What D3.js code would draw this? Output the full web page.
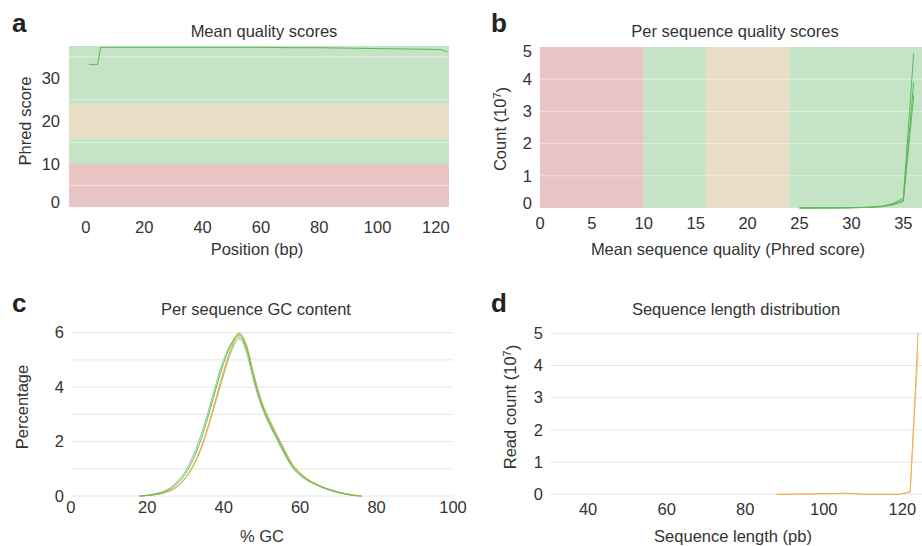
<!DOCTYPE html>
<html>
<head>
<meta charset="utf-8">
<script src="https://cdn.jsdelivr.net/npm/d3@7"></script>
<style>
  body { margin: 0; background: #fff; }
  svg text { font-family: "Liberation Sans", Arial, sans-serif; fill: #333; }
</style>
</head>
<body>
<div class="canvas"></div>
<script>
// a: mean quality per position
const qualPos = [1, 2, 3, 4, 5, 6, 10, 20, 30, 40, 50, 60, 70, 80, 90, 100, 110, 120, 122, 124];
const qualMean = [33.2, 33.2, 33.2, 33.2, 37.1, 37.2, 37.2, 37.2, 37.2, 37.2, 37.2, 37.2, 37.1, 37.1, 37.0, 36.9, 36.8, 36.7, 36.6, 36.1];

// quality bands (shared by a and b)
const bandStarts = [0, 10, 16, 24];
const bandColors = ["#e8c4c4", "#c5e3c5", "#e8dec6", "#c5e3c5"];

// b: per sequence quality (counts in 10^7)
const seqScore = [25, 27, 29, 30, 31, 32, 33, 34, 35, 36];
const seqCountA = [0, 0.002, 0.005, 0.01, 0.02, 0.03, 0.06, 0.14, 0.3, 4.8];
const seqCountB = [0, 0.002, 0.004, 0.008, 0.015, 0.025, 0.05, 0.11, 0.24, 3.9];
const seqCountC = [0, 0.001, 0.004, 0.008, 0.014, 0.022, 0.045, 0.1, 0.2, 3.5];

// c: per sequence GC content (%)
const gcPct = [18, 20, 22, 24, 26, 28, 30, 32, 34, 36, 38, 40, 42, 44, 46, 48, 50, 52, 54, 56, 58, 60, 62, 64, 66, 68, 70, 72, 74, 76];
const gcOrange1 = [0, 0.02, 0.05, 0.1, 0.2, 0.38, 0.68, 1.12, 1.75, 2.6, 3.6, 4.6, 5.45, 6.0, 5.55, 4.38, 3.42, 2.74, 2.17, 1.62, 1.13, 0.82, 0.6, 0.45, 0.32, 0.22, 0.14, 0.08, 0.03, 0];
const gcOrange2 = [0, 0.02, 0.05, 0.1, 0.19, 0.36, 0.65, 1.08, 1.7, 2.55, 3.55, 4.55, 5.4, 5.9, 5.5, 4.36, 3.42, 2.76, 2.2, 1.65, 1.15, 0.84, 0.6, 0.45, 0.32, 0.22, 0.14, 0.08, 0.03, 0];
const gcGreen1 = [0, 0.03, 0.08, 0.16, 0.3, 0.55, 0.92, 1.48, 2.22, 3.12, 4.12, 5.02, 5.62, 5.85, 5.25, 4.15, 3.25, 2.6, 2.05, 1.5, 1.04, 0.76, 0.56, 0.42, 0.3, 0.2, 0.12, 0.06, 0.02, 0];
const gcGreen2 = [0, 0.02, 0.06, 0.13, 0.26, 0.48, 0.82, 1.34, 2.05, 2.95, 3.95, 4.88, 5.58, 5.95, 5.42, 4.28, 3.34, 2.68, 2.12, 1.57, 1.08, 0.79, 0.58, 0.43, 0.31, 0.21, 0.13, 0.07, 0.02, 0];
const gcGreen3 = [0, 0.02, 0.05, 0.1, 0.2, 0.37, 0.66, 1.1, 1.72, 2.55, 3.5, 4.45, 5.3, 5.78, 5.42, 4.4, 3.45, 2.8, 2.24, 1.68, 1.17, 0.85, 0.62, 0.46, 0.33, 0.23, 0.15, 0.08, 0.03, 0];

// d: sequence length distribution (counts in 10^7)
const lenPos = [88, 92, 96, 100, 104, 106, 108, 110, 115, 119, 121, 122, 124];
const lenCountA = [0, 0.005, 0.012, 0.02, 0.03, 0.035, 0.02, 0.004, 0, 0, 0.05, 0.08, 5.0];
const lenCountB = [0, 0.003, 0.01, 0.015, 0.025, 0.028, 0.015, 0.003, 0, 0, 0.04, 0.07, 4.4];

const green = "#5cb85c";
const orange = "#f0ad4e";

const svg = d3
  .select(".canvas")
  .append("svg")
  .attr("width", 922)
  .attr("height", 546);

const fontSize = 16.5;

const drawPanel = (cfg) => {
  const x = d3.scaleLinear().domain(cfg.xDomain).range([cfg.left, cfg.right]);
  const y = d3.scaleLinear().domain(cfg.yDomain).range([cfg.bottom, cfg.top]);
  const g = svg.append("g");

  // quality bands
  if (cfg.bands) {
    const bands = bandStarts.map((s, i) => ({
      from: s,
      to: i < bandStarts.length - 1 ? bandStarts[i + 1] : cfg.bands === "y" ? cfg.yDomain[1] : cfg.xDomain[1],
      color: bandColors[i],
    }));
    g.selectAll("rect.band")
      .data(bands)
      .enter()
      .append("rect")
      .attr("class", "band")
      .attr("fill", (d) => d.color)
      .each(function (d) {
        const r = d3.select(this);
        if (cfg.bands === "y") {
          r.attr("x", cfg.left).attr("width", cfg.right - cfg.left)
            .attr("y", y(d.to)).attr("height", y(d.from) - y(d.to));
        } else {
          r.attr("y", cfg.top).attr("height", cfg.bottom - cfg.top)
            .attr("x", x(d.from)).attr("width", x(d.to) - x(d.from));
        }
      });
  }

  // grid lines
  g.selectAll("line.grid")
    .data(cfg.gridTicks)
    .enter()
    .append("line")
    .attr("class", "grid")
    .attr("x1", cfg.left)
    .attr("x2", cfg.right)
    .attr("y1", (d) => y(d))
    .attr("y2", (d) => y(d))
    .attr("stroke", cfg.gridColor)
    .attr("stroke-opacity", cfg.gridOpacity)
    .attr("stroke-width", 1);

  // series
  const line = d3
    .line()
    .x((d) => x(d[0]))
    .y((d) => y(d[1]))
    .curve(cfg.curve || d3.curveLinear);

  cfg.series.forEach((s) => {
    g.append("path")
      .datum(cfg.xs.map((v, i) => [v, s.values[i]]))
      .attr("fill", "none")
      .attr("stroke", s.color)
      .attr("stroke-width", s.width || 1)
      .attr("stroke-opacity", s.opacity || 1)
      .attr("d", line);
  });

  // y tick labels
  g.selectAll("text.ytick")
    .data(cfg.yTicks)
    .enter()
    .append("text")
    .attr("class", "ytick")
    .attr("x", cfg.yLabelX)
    .attr("y", (d) => {
      let p = y(d);
      if (cfg.clampY) p = Math.max(cfg.top + 4, Math.min(cfg.bottom - 5, p));
      return p;
    })
    .attr("dy", "0.35em")
    .attr("text-anchor", "end")
    .style("font-size", fontSize + "px")
    .text((d) => d);

  // x tick labels
  g.selectAll("text.xtick")
    .data(cfg.xTicks)
    .enter()
    .append("text")
    .attr("class", "xtick")
    .attr("x", (d) => x(d))
    .attr("y", cfg.xLabelY)
    .attr("text-anchor", "middle")
    .style("font-size", fontSize + "px")
    .text((d) => d);

  // title
  g.append("text")
    .attr("x", cfg.titleX)
    .attr("y", cfg.titleY)
    .attr("text-anchor", "middle")
    .style("font-size", fontSize + "px")
    .text(cfg.title);

  // x axis title
  g.append("text")
    .attr("x", cfg.xTitleX)
    .attr("y", cfg.xTitleY)
    .attr("text-anchor", "middle")
    .style("font-size", fontSize + "px")
    .text(cfg.xTitle);

  // y axis title
  const yt = g
    .append("text")
    .attr("transform", `translate(${cfg.yTitleX}, ${cfg.yTitleY}) rotate(-90)`)
    .attr("text-anchor", "middle")
    .attr("dy", "0.35em")
    .style("font-size", fontSize + "px");
  yt.append("tspan").text(cfg.yTitle);
  if (cfg.yTitleSup) {
    yt.append("tspan").attr("dy", "-0.45em").style("font-size", "11px").text(cfg.yTitleSup);
    yt.append("tspan").attr("dy", "0.45em").text(")");
  }

  // panel letter
  g.append("text")
    .attr("x", cfg.letterX)
    .attr("y", cfg.letterY)
    .style("font-size", "26px")
    .style("font-weight", "bold")
    .style("fill", "#222")
    .text(cfg.letter);
};

drawPanel({
  letter: "a", letterX: 12, letterY: 32,
  left: 69, right: 449, top: 46, bottom: 207,
  xDomain: [-5.8, 124.5], yDomain: [0, 37.5],
  bands: "y",
  gridTicks: [5, 15, 25, 35], gridColor: "#fff", gridOpacity: 0.45,
  xs: qualPos,
  series: [{ values: qualMean, color: green }],
  yTicks: [0, 10, 20, 30], yLabelX: 60, clampY: true,
  xTicks: [0, 20, 40, 60, 80, 100, 120], xLabelY: 233,
  title: "Mean quality scores", titleX: 264, titleY: 37,
  xTitle: "Position (bp)", xTitleX: 257, xTitleY: 255,
  yTitle: "Phred score", yTitleX: 25, yTitleY: 121,
});

drawPanel({
  letter: "b", letterX: 491, letterY: 32,
  left: 540, right: 922, top: 47, bottom: 208,
  xDomain: [0, 36.8], yDomain: [0, 5],
  bands: "x",
  gridTicks: [1, 2, 3, 4], gridColor: "#fff", gridOpacity: 0.45,
  xs: seqScore,
  series: [
    { values: seqCountC, color: green },
    { values: seqCountB, color: green },
    { values: seqCountA, color: green },
  ],
  yTicks: [0, 1, 2, 3, 4, 5], yLabelX: 532, clampY: true,
  xTicks: [0, 5, 10, 15, 20, 25, 30, 35], xLabelY: 229,
  title: "Per sequence quality scores", titleX: 735, titleY: 37,
  xTitle: "Mean sequence quality (Phred score)", xTitleX: 728, xTitleY: 255,
  yTitle: "Count (10", yTitleSup: "7", yTitleX: 500, yTitleY: 129,
});

drawPanel({
  letter: "c", letterX: 12, letterY: 312,
  left: 70.8, right: 453, top: 332.7, bottom: 496,
  xDomain: [0, 100], yDomain: [0, 6],
  gridTicks: [0, 1, 2, 3, 4, 5, 6], gridColor: "#e6e6e6", gridOpacity: 1,
  xs: gcPct,
  curve: d3.curveMonotoneX,
  series: [
    { values: gcGreen1, color: "#82cc82" },
    { values: gcGreen3, color: "#82cc82" },
    { values: gcOrange2, color: orange },
    { values: gcOrange1, color: orange },
    { values: gcGreen2, color: green },
  ],
  yTicks: [0, 2, 4, 6], yLabelX: 64,
  xTicks: [0, 20, 40, 60, 80, 100], xLabelY: 513,
  title: "Per sequence GC content", titleX: 256, titleY: 315,
  xTitle: "% GC", xTitleX: 262, xTitleY: 542,
  yTitle: "Percentage", yTitleX: 22, yTitleY: 407,
});

drawPanel({
  letter: "d", letterX: 491, letterY: 312,
  left: 550, right: 922, top: 333.3, bottom: 494.3,
  xDomain: [30.3, 125], yDomain: [0, 5],
  gridTicks: [0, 1, 2, 3, 4, 5], gridColor: "#e6e6e6", gridOpacity: 1,
  xs: lenPos,
  series: [
    { values: lenCountB, color: "#f7c98a" },
    { values: lenCountA, color: orange },
  ],
  yTicks: [0, 1, 2, 3, 4, 5], yLabelX: 543,
  xTicks: [40, 60, 80, 100, 120], xLabelY: 515,
  title: "Sequence length distribution", titleX: 736, titleY: 315,
  xTitle: "Sequence length (pb)", xTitleX: 733, xTitleY: 542,
  yTitle: "Read count (10", yTitleSup: "7", yTitleX: 510, yTitleY: 407,
});
</script>
</body>
</html>
